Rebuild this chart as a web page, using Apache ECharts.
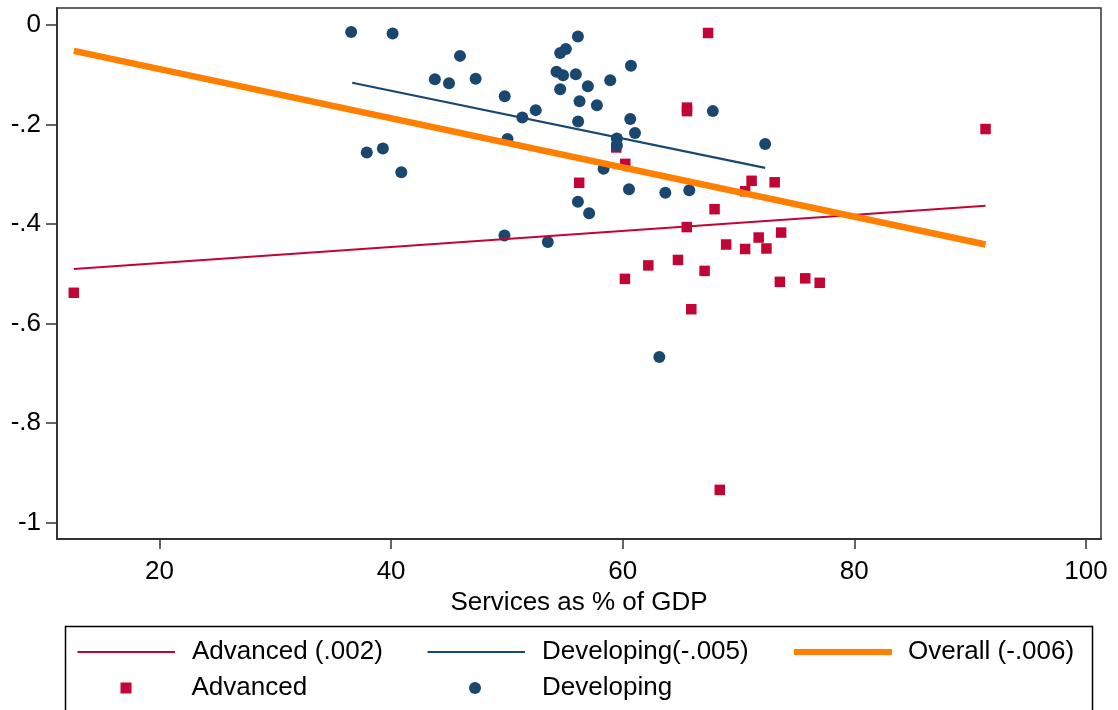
<!DOCTYPE html>
<html>
<head>
<meta charset="utf-8">
<title>Services as % of GDP</title>
<script src="https://cdn.jsdelivr.net/npm/echarts@6/dist/echarts.min.js"></script>
<style>
  html, body { margin: 0; padding: 0; background: #fff; }
  #chart { width: 1118px; height: 710px; }
</style>
</head>
<body>
<div id="chart"></div>
<script>
const xTicks = [20, 40, 60, 80, 100];
const yTicks = [0, -0.2, -0.4, -0.6, -0.8, -1];

// [services % of GDP, value]
const advancedPoints = [
  [12.60, -0.538], [67.37, -0.016], [65.55, -0.166], [65.55, -0.173],
  [59.44, -0.246], [60.22, -0.279], [56.24, -0.317], [71.13, -0.313],
  [73.12, -0.316], [70.57, -0.334], [67.93, -0.370], [65.53, -0.406],
  [68.93, -0.441], [70.57, -0.450], [71.74, -0.427], [72.41, -0.449],
  [73.68, -0.417], [62.21, -0.483], [64.77, -0.472], [67.07, -0.494],
  [60.19, -0.510], [73.57, -0.516], [75.76, -0.509], [77.01, -0.518],
  [65.92, -0.571], [68.38, -0.934], [91.33, -0.209]
];

const developingPoints = [
  [36.55, -0.014], [40.13, -0.017], [45.95, -0.062], [43.78, -0.109],
  [45.00, -0.117], [47.30, -0.108], [49.81, -0.143], [51.33, -0.186],
  [50.05, -0.229], [37.90, -0.256], [39.29, -0.248], [40.88, -0.296],
  [49.79, -0.423], [56.13, -0.023], [55.09, -0.048], [54.60, -0.056],
  [54.28, -0.094], [54.85, -0.101], [55.95, -0.099], [60.71, -0.082],
  [56.99, -0.123], [58.92, -0.111], [54.60, -0.129], [56.27, -0.153],
  [57.77, -0.161], [52.49, -0.171], [67.78, -0.173], [56.15, -0.194],
  [60.65, -0.189], [61.06, -0.217], [59.50, -0.228], [59.50, -0.242],
  [58.35, -0.289], [60.54, -0.330], [63.68, -0.337], [65.75, -0.332],
  [56.13, -0.355], [57.10, -0.378], [53.53, -0.436], [72.30, -0.239],
  [63.16, -0.667]
];

// fitted lines, start and end
const advancedFit = [[12.60, -0.490], [91.33, -0.363]];
const developingFit = [[36.64, -0.116], [72.30, -0.287]];
const overallFit = [[12.60, -0.052], [91.33, -0.441]];

const RED = '#C10534';
const BLUE = '#1A476F';
const ORANGE = '#FF8000';
const FONT = "'Liberation Sans', Arial, sans-serif";

const chart = echarts.init(document.getElementById('chart'));

const legendText = pad => ({
  color: '#000',
  fontSize: 26,
  fontFamily: FONT,
  lineHeight: 26,
  padding: [0, 0, 0, pad]
});

// one legend per entry so the two rows line up like the original
const legendItem = (name, icon, left, top, w, h, pad) => ({
  data: [name],
  icon: icon,
  left: left,
  top: top,
  padding: 0,
  itemWidth: w,
  itemHeight: h,
  selectedMode: false,
  textStyle: legendText(pad)
});

const option = {
  animation: false,
  backgroundColor: '#fff',
  grid: {
    left: 57,
    right: 17,
    top: 8,
    bottom: 171,
    show: true,
    borderColor: '#333',
    borderWidth: 1.5
  },
  xAxis: {
    type: 'value',
    min: 11.15,
    max: 101.3,
    name: 'Services as % of GDP',
    nameLocation: 'middle',
    nameGap: 42,
    nameTextStyle: { color: '#000', fontSize: 26, fontFamily: FONT },
    axisLine: { show: true, onZero: false, lineStyle: { color: '#333', width: 2 } },
    axisTick: { show: true, length: 10, customValues: xTicks, lineStyle: { color: '#333', width: 1.5 } },
    axisLabel: { customValues: xTicks, margin: 20, color: '#000', fontSize: 26, fontFamily: FONT },
    splitLine: { show: false }
  },
  yAxis: {
    type: 'value',
    min: -1.0327,
    max: 0.0342,
    axisLine: { show: true, onZero: false, lineStyle: { color: '#333', width: 2 } },
    axisTick: { show: true, length: 11, customValues: yTicks, lineStyle: { color: '#333', width: 1.5 } },
    axisLabel: {
      customValues: yTicks,
      margin: 16,
      color: '#000',
      fontSize: 26,
      fontFamily: FONT,
      formatter: v => (v === 0 ? '0' : String(+v.toFixed(1)).replace('0.', '.'))
    },
    splitLine: { show: false }
  },
  legend: [
    legendItem('Advanced (.002)', 'rect', 77.5, 639, 97.5, 2, 12),
    legendItem('Developing(-.005)', 'rect', 427.5, 639, 97.5, 2.2, 12),
    legendItem('Overall (-.006)', 'rect', 794, 639, 98, 6, 11),
    legendItem('Advanced', 'rect', 120.5, 675, 11, 11, 55),
    legendItem('Developing', 'circle', 469, 675, 12, 12, 56)
  ],
  graphic: [{
    type: 'rect',
    shape: { x: 65.5, y: 626.5, width: 1027, height: 120 },
    style: { fill: 'none', stroke: '#000', lineWidth: 1.5 },
    silent: true
  }],
  series: [
    {
      name: 'Advanced (.002)',
      type: 'line',
      data: advancedFit,
      symbol: 'none',
      lineStyle: { color: RED, width: 2 },
      itemStyle: { color: RED }
    },
    {
      name: 'Developing(-.005)',
      type: 'line',
      data: developingFit,
      symbol: 'none',
      lineStyle: { color: BLUE, width: 2.2 },
      itemStyle: { color: BLUE }
    },
    {
      name: 'Overall (-.006)',
      type: 'line',
      data: overallFit,
      symbol: 'none',
      lineStyle: { color: ORANGE, width: 6.5 },
      itemStyle: { color: ORANGE }
    },
    {
      name: 'Advanced',
      type: 'scatter',
      data: advancedPoints,
      symbol: 'rect',
      symbolSize: 10.5,
      itemStyle: { color: RED, opacity: 1 }
    },
    {
      name: 'Developing',
      type: 'scatter',
      data: developingPoints,
      symbol: 'circle',
      symbolSize: 12,
      itemStyle: { color: BLUE, opacity: 1 }
    }
  ]
};

chart.setOption(option);
</script>
</body>
</html>
